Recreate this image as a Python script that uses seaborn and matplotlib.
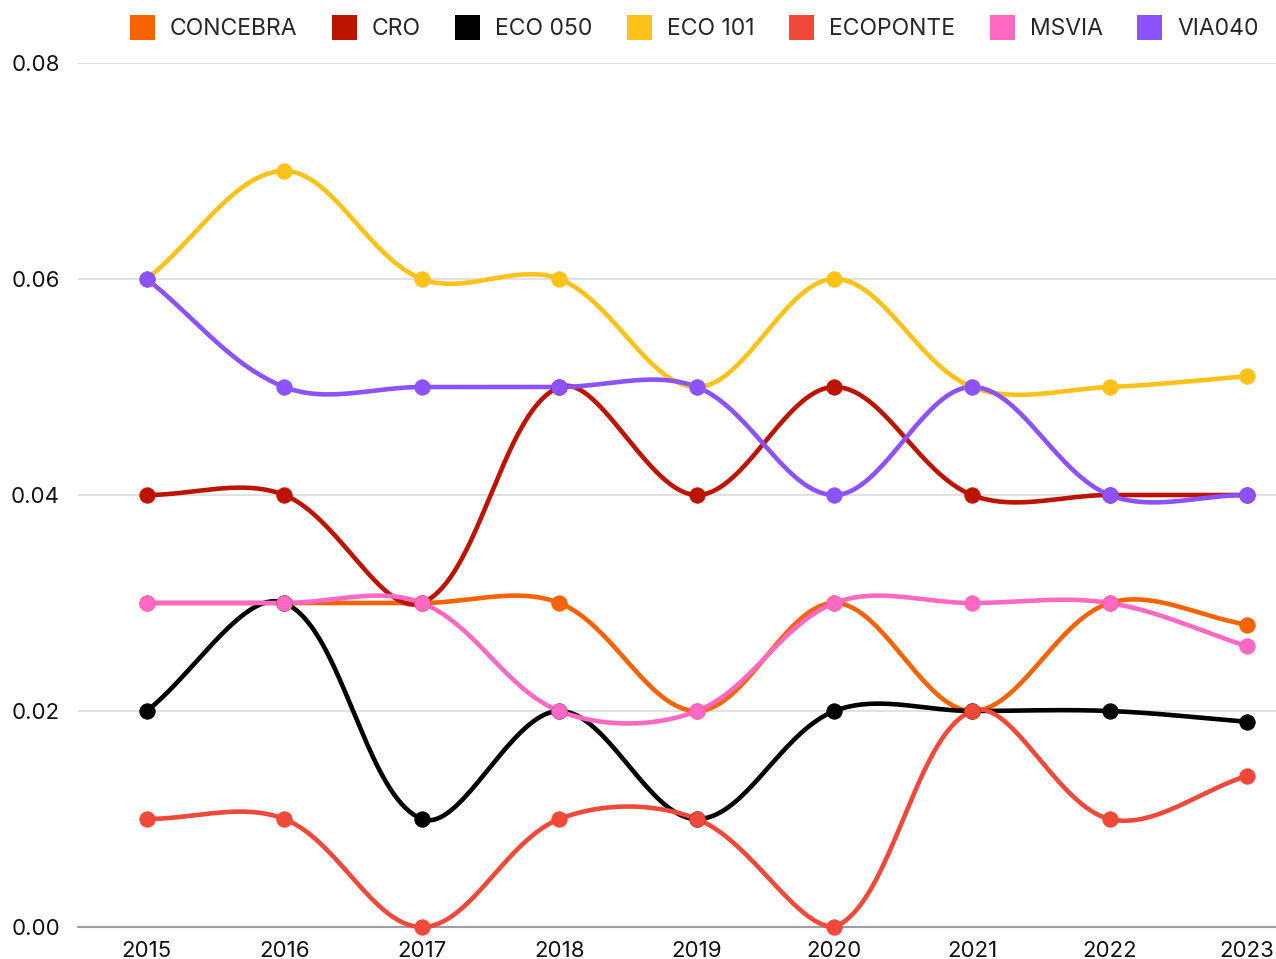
import numpy as np
import pandas as pd
import seaborn as sns
import matplotlib.pyplot as plt
from matplotlib.patches import Patch

years = [2015, 2016, 2017, 2018, 2019, 2020, 2021, 2022, 2023]
concebra = [0.03, 0.03, 0.03, 0.03, 0.02, 0.03, 0.02, 0.03, 0.028]
cro = [0.04, 0.04, 0.03, 0.05, 0.04, 0.05, 0.04, 0.04, 0.04]
eco050 = [0.02, 0.03, 0.01, 0.02, 0.01, 0.02, 0.02, 0.02, 0.019]
eco101 = [0.06, 0.07, 0.06, 0.06, 0.05, 0.06, 0.05, 0.05, 0.051]
ecoponte = [0.01, 0.01, 0.00, 0.01, 0.01, 0.00, 0.02, 0.01, 0.014]
msvia = [0.03, 0.03, 0.03, 0.02, 0.02, 0.03, 0.03, 0.03, 0.026]
via040 = [0.06, 0.05, 0.05, 0.05, 0.05, 0.04, 0.05, 0.04, 0.04]

names = ["CONCEBRA", "CRO", "ECO 050", "ECO 101", "ECOPONTE", "MSVIA", "VIA040"]
values = [concebra, cro, eco050, eco101, ecoponte, msvia, via040]
colors = ["#F76300", "#BC1400", "#000000", "#FDC217", "#F0493A", "#FF69C4", "#8C52FF"]

sns.set_theme(style="white")
plt.rcParams['font.family'] = ['Inter', 'DejaVu Sans']


def smooth(xs, ys, sx=137.5, sy=10800.0, t=0.35, n=40, ymax=0.08):
    # cardinal-style spline worked out in pixel units, control points kept in the chart area
    pts = np.column_stack([np.asarray(xs, float) * sx, np.asarray(ys, float) * sy])
    m = len(pts)
    cin, cout = [], []
    for i in range(m):
        p0 = pts[max(i - 1, 0)]
        p1 = pts[i]
        p2 = pts[min(i + 1, m - 1)]
        d01 = np.hypot(*(p1 - p0))
        d12 = np.hypot(*(p2 - p1))
        tot = d01 + d12
        s01 = d01 / tot if tot else 0
        s12 = d12 / tot if tot else 0
        a = p1 - t * s01 * (p2 - p0)
        b = p1 + t * s12 * (p2 - p0)
        a[1] = np.clip(a[1], 0, ymax * sy)
        b[1] = np.clip(b[1], 0, ymax * sy)
        cin.append(a)
        cout.append(b)
    u = np.linspace(0, 1, n)[:, None]
    out = []
    for i in range(m - 1):
        a, b, c, d = pts[i], cout[i], cin[i + 1], pts[i + 1]
        seg = (1 - u) ** 3 * a + 3 * (1 - u) ** 2 * u * b + 3 * (1 - u) * u ** 2 * c + u ** 3 * d
        out.append(seg if i == 0 else seg[1:])
    out = np.vstack(out)
    return out[:, 0] / sx, out[:, 1] / sy


fig = plt.figure(figsize=(12.76, 9.59), dpi=100)
ax = fig.add_axes([78 / 1276, 1 - 927 / 959, 1 - 78 / 1276, (927 - 63) / 959])

idx = np.arange(len(years))
for name, vals, col in zip(names, values, colors):
    cx, cy = smooth(idx, vals)
    ln, = ax.plot(cx, cy, color=col, lw=3.3, solid_capstyle='round', zorder=3)
    ln.set_clip_on(False)
    df = pd.DataFrame({"x": idx, "y": vals})
    sns.scatterplot(data=df, x="x", y="y", ax=ax, color=col, s=125,
                    edgecolor=col, linewidth=0.5, zorder=4, legend=False)

for coll in ax.collections:
    coll.set_clip_on(False)

ax.set_xlim(-0.5, 8.21)
ax.set_ylim(0, 0.08)
ax.set_xticks(idx)
ax.set_xticklabels([str(y) for y in years])
yt = [0.0, 0.02, 0.04, 0.06, 0.08]
ax.set_yticks(yt)
ax.set_yticklabels([f"{v:.2f}" for v in yt])
ax.tick_params(axis='x', length=0, pad=10, labelsize=16, colors='#111111')
ax.tick_params(axis='y', length=0, pad=13, labelsize=16, colors='#111111')
ax.set_xlabel("")
ax.set_ylabel("")
for s in ax.spines.values():
    s.set_visible(False)
for v in yt[1:]:
    ax.axhline(v, color='#dcdcdc', lw=1.2, zorder=1)
ax.axhline(0, color='#9e9e9e', lw=1.5, zorder=1, clip_on=False)

handles = [Patch(facecolor=c, edgecolor='none', label=n) for n, c in zip(names, colors)]
fig.legend(handles=handles, loc='center', bbox_to_anchor=(0.544, 0.971), ncol=7,
           frameon=False, fontsize=16.5, handlelength=1.1, handleheight=1.25,
           handletextpad=0.65, columnspacing=1.5, borderaxespad=0)

fig.savefig("out.png", dpi=100)
